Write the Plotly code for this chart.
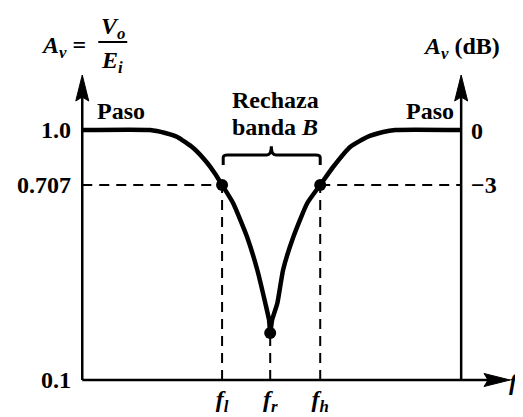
import plotly.graph_objects as go

# ---- data (schematic units) ----
freq_curve = [0.0, 1.79, 2.19, 2.51, 2.93, 3.30, 3.51, 3.69, 3.98, 4.35, 4.62, 4.83, 4.93, 4.96,
              5.01, 5.15, 5.30, 5.57, 5.94, 6.28, 6.62, 7.07, 7.52, 7.94, 8.26, 10.0]
gain_curve = [1.0, 1.0, 0.988, 0.972, 0.928, 0.868, 0.824, 0.78, 0.708, 0.572, 0.44, 0.308, 0.24, 0.188,
              0.24, 0.308, 0.44, 0.572, 0.708, 0.78, 0.852, 0.932, 0.972, 0.992, 1.0, 1.0]

f_l, f_r, f_h = 3.69, 4.96, 6.28
key_freqs = [f_l, f_r, f_h]
level_pass, level_cut, level_min = 1.0, 0.78, 0.188
key_gains = [level_cut, level_min, level_cut]

left_tick_vals = [0.0, level_cut, level_pass]
left_tick_text = ["0.1", "0.707", "1.0"]
right_tick_text = ["0", "\u22123"]
x_tick_text = ["<i>f</i><sub><i>l</i></sub>", "<i>f</i><sub><i>r</i></sub>",
               "<i>f</i><sub><i>h</i></sub>"]

RIGHT_AXIS = 10.0
X_TIP = 11.29      # x-axis arrow tip
Y_TIP = 1.22       # vertical arrows tip

FONT = "Liberation Serif"
BLACK = "black"
FS = 24

# geometry: page has an 8px body margin
SX, SY = 37.9, 250.0          # px per unit
X_LOW, X_HIGH = -0.35, 11.5
Y_LOW, Y_HIGH = -0.06, 1.26
W, H = 515, 409
ORIGIN_X, ORIGIN_Y = 74, 372   # figure px of (0,0)
ML = ORIGIN_X + X_LOW * SX
PW = (X_HIGH - X_LOW) * SX
MR = W - ML - PW
PH = (Y_HIGH - Y_LOW) * SY
MB = H - ORIGIN_Y + Y_LOW * SY
MT = H - MB - PH

fig = go.Figure()

# dashed guide lines
dash = "10px,7px"
guides = [
    (0, level_cut, f_l, level_cut),
    (f_h, level_cut, RIGHT_AXIS, level_cut),
    (f_l, 0, f_l, level_cut),
    (f_r, 0, f_r, level_min),
    (f_h, 0, f_h, level_cut),
]
for x0, y0, x1, y1 in guides:
    fig.add_shape(type="line", x0=x0, y0=y0, x1=x1, y1=y1, xref="x", yref="y",
                  line=dict(color=BLACK, width=2, dash=dash), layer="below")

# response curve
fig.add_trace(go.Scatter(x=freq_curve, y=gain_curve, mode="lines",
                         line=dict(color=BLACK, width=4.5, shape="spline", smoothing=0.5),
                         hoverinfo="skip", showlegend=False))
fig.add_trace(go.Scatter(x=key_freqs, y=key_gains, mode="markers",
                         marker=dict(color=BLACK, size=12),
                         hoverinfo="skip", showlegend=False))

# axes lines
ax_w = 2.5
fig.add_shape(type="line", x0=0, y0=0, x1=0, y1=Y_TIP - 0.05, line=dict(color=BLACK, width=ax_w))
fig.add_shape(type="line", x0=RIGHT_AXIS, y0=0, x1=RIGHT_AXIS, y1=Y_TIP - 0.05,
              line=dict(color=BLACK, width=ax_w))
fig.add_shape(type="line", x0=0, y0=0, x1=X_TIP - 0.3, y1=0, line=dict(color=BLACK, width=ax_w))

# arrow heads (filled triangles)
def up_arrow(x, tip):
    hw = 6.5 / SX
    base = tip - 26 / SY
    notch = base + 4 / SY
    return f"M {x},{tip} L {x-hw},{base} L {x},{notch} L {x+hw},{base} Z"
def right_arrow(tip, y):
    hh = 6.5 / SY
    base = tip - 26 / SX
    notch = base + 4 / SX
    return f"M {tip},{y} L {base},{y-hh} L {notch},{y} L {base},{y+hh} Z"
for p in [up_arrow(0, Y_TIP), up_arrow(RIGHT_AXIS, Y_TIP), right_arrow(X_TIP, 0)]:
    fig.add_shape(type="path", path=p, fillcolor=BLACK, line=dict(color=BLACK, width=1))

# brace over the reject band
bl, br, bm = 3.72, 6.28, 4.99
yb, yh, yt = 0.86, 0.90, 0.935
dx = 0.12
brace = (f"M {bl},{yb} L {bl},{yh-0.01} Q {bl},{yh} {bl+dx},{yh} "
         f"L {bm-dx},{yh} Q {bm},{yh} {bm},{yt} "
         f"Q {bm},{yh} {bm+dx},{yh} L {br-dx},{yh} Q {br},{yh} {br},{yh-0.01} L {br},{yb}")
fig.add_shape(type="path", path=brace, line=dict(color=BLACK, width=3))

# page-pixel -> paper helpers (page = figure + 8px body margin)
def PX(px):
    return (px - 8 - ML) / PW
def PY(py):
    return (H - MB - (py - 8)) / PH

def txt(px, py, s, size=FS, xanchor="center", yanchor="middle", bold=True):
    fig.add_annotation(x=PX(px), y=PY(py), xref="paper", yref="paper", text=s,
                       showarrow=False, xanchor=xanchor, yanchor=yanchor,
                       font=dict(family=FONT, size=size, color=BLACK,
                                 weight="bold" if bold else "normal"))

# right-axis tick labels
txt(469, 131, right_tick_text[0], xanchor="left")
txt(469, 185, right_tick_text[1], xanchor="left")

# titles
txt(63, 47, "<i>A</i><sub><i>v</i></sub> =", size=24)
txt(113, 28, "<i>V</i><sub><i>o</i></sub>", size=24)
txt(112, 62, "<i>E</i><sub><i>i</i></sub>", size=24)
fig.add_shape(type="line", x0=PX(98), y0=PY(42), x1=PX(127), y1=PY(42),
              xref="paper", yref="paper", line=dict(color=BLACK, width=2))
txt(461, 48, "<i>A</i><sub><i>v</i></sub> (dB)", size=24)
txt(121, 111, "Paso")
txt(430, 111, "Paso")
txt(275, 100, "Rechaza")
txt(275, 127, "banda <i>B</i>")
txt(507, 382, "<i>f</i>", xanchor="left")

tick_font = dict(family=FONT, size=FS, color=BLACK, weight="bold")
fig.update_layout(
    width=W, height=H,
    margin=dict(l=ML, r=MR, t=MT, b=MB, autoexpand=False),
    paper_bgcolor="white", plot_bgcolor="white",
    xaxis=dict(range=[X_LOW, X_HIGH], showgrid=False, zeroline=False, showline=False,
               tickvals=key_freqs, ticktext=x_tick_text, ticks="",
               tickfont=tick_font, ticklabelstandoff=2 + int(round(Y_LOW * SY))),
    yaxis=dict(range=[Y_LOW, Y_HIGH], showgrid=False, zeroline=False, showline=False,
               tickvals=left_tick_vals, ticktext=left_tick_text, ticks="",
               tickfont=tick_font, ticklabelstandoff=10 + int(round(X_LOW * SX))),
)

fig.write_html("out.html")
